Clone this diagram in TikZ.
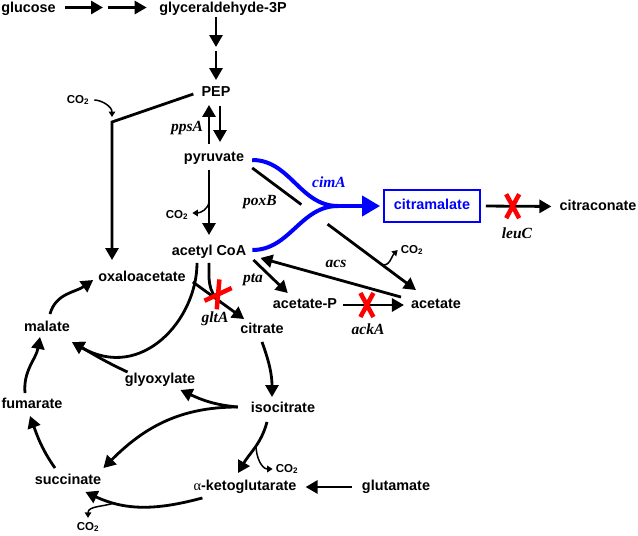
\documentclass[tikz,border=0pt]{standalone}
\usepackage{fontspec}
\setmainfont{Liberation Sans}
\newfontfamily\genefont{Liberation Serif}
\usetikzlibrary{arrows.meta,calc,shapes.misc}

\begin{document}
\begin{tikzpicture}[
    x=1pt, y=-1pt,
    every node/.style={inner sep=1pt},
    met/.style={font=\bfseries\fontsize{14.4}{17}\selectfont, text height=10.5pt, text depth=3pt},
    gene/.style={font=\genefont\bfseries\itshape\fontsize{15.5}{18}\selectfont},
    co2/.style={font=\bfseries\fontsize{11.5}{13}\selectfont},
    flux/.style={line width=2.8pt, -{Triangle[length=12pt,width=13pt]}},
    link/.style={line width=2.8pt},
    side/.style={line width=1.5pt, -{Triangle[length=5.5pt,width=6.5pt]}},
    blueflux/.style={blue, line width=4pt},
    knock/.style={cross out, draw=red, line width=4.5pt, minimum width=13pt, minimum height=24pt, inner sep=0pt, outer sep=0pt},
  ]
  \useasboundingbox (0,0) rectangle (638,536);

  \node[met] (glc) at (28.5,9) {glucose};
  \node[met] (g3p) at (223,9) {glyceraldehyde-3P};
  \node[met] (pep) at (216,93) {PEP};
  \node[met] (pyr) at (214,158) {pyruvate};
  \node[met] (accoa) at (209,252) {acetyl CoA};
  \node[met] (oaa) at (142,278) {oxaloacetate};
  \node[met] (acp) at (305,305) {acetate-P};
  \node[met] (ace) at (436,305) {acetate};
  \node[met] (cit) at (262,330) {citrate};
  \node[met] (mal) at (47,328) {malate};
  \node[met] (glx) at (160,380) {glyoxylate};
  \node[met] (fum) at (32,405) {fumarate};
  \node[met] (icit) at (283,409) {isocitrate};
  \node[met] (suc) at (68,481) {succinate};
  \node[met] (akg) at (245,487) {{\genefont\mdseries α}-ketoglutarate};
  \node[met] (glu) at (396,487) {glutamate};
  \node[met, blue, draw, line width=1.8pt, inner xsep=10pt, inner ysep=9pt] (citm) at (432,206) {citramalate};
  \node[met] (citc) at (598,206.5) {citraconate};

  \node[gene] (ppsa) at (187,128) {ppsA};
  \node[gene] (poxb) at (260,202) {poxB};
  \node[gene, blue] (cima) at (329,182) {cimA};
  \node[gene] (acs) at (336,264) {acs};
  \node[gene] (pta) at (253,280) {pta};
  \node[gene] (glta) at (215,319) {gltA};
  \node[gene] (acka) at (368,329) {ackA};
  \node[gene] (leuc) at (517,233) {leuC};

  \node[co2] (co2a) at (78,100) {CO\textsubscript{2}};
  \node[co2] (co2b) at (177,215) {CO\textsubscript{2}};
  \node[co2] (co2c) at (412,250) {CO\textsubscript{2}};
  \node[co2] (co2d) at (287,469) {CO\textsubscript{2}};
  \node[co2] (co2e) at (88,527) {CO\textsubscript{2}};

  \coordinate (gmid) at (105.5,7.5);
  \draw[flux] ([xshift=8pt,yshift=1.5pt]glc.east) -- ([xshift=-2.5pt]gmid);
  \draw[flux] ([xshift=2.5pt]gmid) -- ([xshift=-11.5pt,yshift=1.5pt]g3p.west);
  \coordinate (gpmid) at (216,49);
  \draw[flux] (g3p.south -| gpmid) -- ([yshift=2pt]gpmid);
  \draw[flux] ([yshift=-2pt]gpmid) -- ([yshift=5pt]pep.north);

  \coordinate (pj) at (112,122);
  \draw[flux, shorten >=10pt] ([xshift=-7pt,yshift=-1pt]pep.west) -- (pj) -- (oaa.north -| pj);
  \draw[side, shorten <=4pt] (co2a.east) to[out=0,in=90] ([yshift=5pt]pj);

  \draw[flux, shorten <=6pt, shorten >=4pt] ([xshift=-5pt]pyr.north) -- ([xshift=-7pt]pep.south);
  \draw[flux, shorten <=5pt, shorten >=8pt] ([xshift=4pt]pep.south) -- ([xshift=6pt]pyr.north);

  \draw[flux, shorten <=4pt, shorten >=9pt] ([xshift=-5pt]pyr.south) -- coordinate[pos=0.45] (pdh) (accoa.north);
  \draw[side] (pdh) to[out=270,in=0] ([xshift=3pt,yshift=2pt]co2b.east);

  \coordinate (cj) at (338,206);
  \draw[blueflux] ([xshift=7pt,yshift=-2pt]pyr.east) to[out=0,in=180] (cj);
  \draw[blueflux] ([xshift=5pt,yshift=2pt]accoa.east) to[out=0,in=180] (cj);
  \draw[blueflux, -{Triangle[length=18pt,width=20pt]}, shorten >=3pt] (cj) -- (citm.west);

  \coordinate (pxs) at ([xshift=7pt,yshift=-2pt]pyr.south east);
  \coordinate (pxe) at ([xshift=6pt,yshift=7pt]ace.north west);
  \draw[link] (pxs) -- ($(pxs)!0.30!(pxe)$);
  \draw[flux] ($(pxs)!0.46!(pxe)$) -- (pxe);
  \draw[side] ($(pxs)!0.79!(pxe)$) to[out=-20,in=225] ([xshift=-2pt]co2c.west);

  \draw[flux] ([xshift=-9pt]ace.north west) -- ([xshift=13pt,yshift=-6pt]accoa.east);
  \draw[flux] ([xshift=6pt]accoa.south east) -- ([xshift=16pt,yshift=4pt]acp.north west);
  \draw[flux, shorten <=5pt, shorten >=6pt] (acp.east) -- (ace.west);
  \node[knock] (koack) at ($(acp.east)!0.4!(ace.west)$) {};

  \draw[flux, shorten <=5pt, shorten >=7pt] (citm.east) -- (citc.west);
  \node[knock] (koleu) at ($(citm.east)!0.41!(citc.west)$) {};

  \draw[flux] ([xshift=6pt,yshift=-4pt]oaa.east) -- coordinate[pos=0.55] (cs) ([xshift=5pt,yshift=3pt]cit.north west);
  \draw[link, shorten <=3pt] (accoa.south) to[out=270,in=145] (cs);
  \node[knock, rotate=-35, minimum width=15pt, minimum height=26pt] (koglt) at ([xshift=-3pt,yshift=8pt]cs) {};

  \draw[flux] ([xshift=4pt]glx.north west) to[out=155,in=-30] ([xshift=1pt,yshift=-6pt]mal.south east);
  \draw[flux, shorten <=3pt] ([xshift=-12pt]accoa.south) to[out=270,in=-30,out distance=60pt,in distance=80pt] ([xshift=1pt,yshift=-6pt]mal.south east);

  \draw[flux] ([xshift=3pt,yshift=6pt]mal.north) to[out=75,in=215] ([xshift=-4pt,yshift=-2pt]oaa.west);
  \draw[flux] ([xshift=-7pt,yshift=4pt]fum.north) to[out=95,in=260] ([xshift=-7pt,yshift=-1pt]mal.south);
  \draw[flux] ([xshift=-13pt,yshift=5pt]suc.north) to[out=125,in=-70] ([xshift=-2pt,yshift=-3pt]fum.south);
  \draw[flux] ([xshift=10pt,yshift=-3pt]akg.south west) to[out=195,in=-25] coordinate[pos=0.75] (kgd) ([xshift=-17pt,yshift=-3pt]suc.south east);
  \draw[side] (kgd) to[out=200,in=90] ([yshift=3pt]co2e.north);

  \draw[flux] ([yshift=-4pt]cit.south) to[out=-70,in=90] ([xshift=-11pt,yshift=4pt]icit.north);
  \draw[flux] ([xshift=-16pt,yshift=-5pt]icit.south) to[out=255,in=60] coordinate[pos=0.45] (idh) ([xshift=-7pt,yshift=6pt]akg.north);
  \draw[side] (idh) to[out=270,in=180] ([xshift=-2pt]co2d.west);
  \draw[flux] ([xshift=-12pt,yshift=2pt]icit.west) to[out=175,in=-25] ([xshift=-16pt,yshift=-2pt]glx.south east);
  \draw[flux] ([xshift=-12pt,yshift=2pt]icit.west) to[out=180,in=45] ([xshift=1pt,yshift=5pt]suc.north east);

  \draw[flux, shorten <=9pt, shorten >=8pt] (glu.west) -- (akg.east);
\end{tikzpicture}
\end{document}
